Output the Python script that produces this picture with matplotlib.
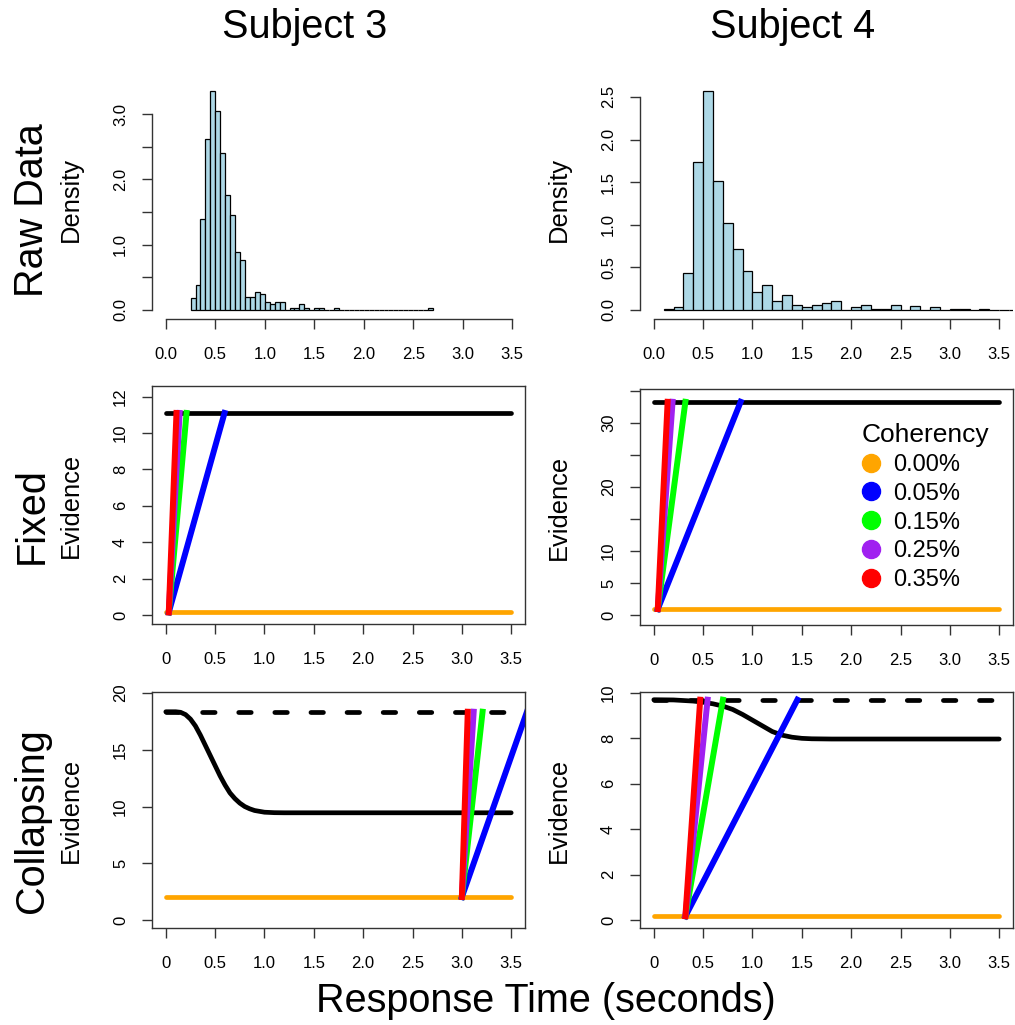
import numpy as np
import matplotlib.pyplot as plt
from matplotlib.lines import Line2D

plt.rcParams['font.family'] = ['Liberation Sans', 'DejaVu Sans']
plt.rcParams['lines.scale_dashes'] = False

W, H = 1015, 1025

# raw data histograms (density per bin)
s3_bin_start, s3_bin_width = 0.25, 0.05
s3_density = [0.18, 0.39, 1.39, 2.62, 3.36, 3.05, 2.40, 1.76, 1.45, 0.89,
              0.76, 0.20, 0.20, 0.27, 0.24, 0.12, 0.09, 0.12, 0.12, 0.0,
              0.025, 0.025, 0.09, 0.025, 0.0, 0.025, 0.025, 0.0, 0.0, 0.025,
              0, 0, 0, 0, 0, 0, 0, 0, 0, 0, 0, 0, 0, 0, 0, 0, 0, 0,
              0.025]
s4_bin_start, s4_bin_width = 0.1, 0.1
s4_density = [0.015, 0.035, 0.43, 1.74, 2.57, 1.51, 1.02, 0.71, 0.46, 0.21,
              0.29, 0.105, 0.18, 0.06, 0.04, 0.06, 0.08, 0.105, 0.0, 0.03,
              0.06, 0.015, 0.015, 0.06, 0.0, 0.045, 0.0, 0.03, 0.0, 0.015,
              0.015, 0.0, 0.015, 0.0, 0.0, 0.0, 0.0]

coh_labels = ['0.00%', '0.05%', '0.15%', '0.25%', '0.35%']
coh_colors = ['#FFA500', '#0000FF', '#00FF00', '#A020F0', '#FF0000']

# fixed bound model: start point, bound, non-decision time, hit times (0.05..0.35)
fixed3_start, fixed3_bound, fixed3_t0 = 0.15, 11.1, 0.03
fixed3_hit = [0.595, 0.21, 0.14, 0.108]
fixed4_start, fixed4_bound, fixed4_t0 = 0.93, 33.3, 0.04
fixed4_hit = [0.88, 0.32, 0.19, 0.14]

# collapsing bound model
coll3_start, coll3_bound, coll3_t0 = 2.03, 18.35, 3.0
coll3_hit = [3.66, 3.21, 3.12, 3.06]
coll3_time = [0, 0.1, 0.15, 0.2, 0.25, 0.3, 0.35, 0.4, 0.45, 0.5, 0.55, 0.6,
              0.65, 0.7, 0.75, 0.8, 0.85, 0.9, 1.0, 1.1, 1.2, 3.5]
coll3_curve = [18.35, 18.35, 18.3, 18.1, 17.7, 17.1, 16.3, 15.4, 14.5, 13.6,
               12.7, 11.9, 11.2, 10.7, 10.3, 10.0, 9.8, 9.65, 9.5, 9.46, 9.45, 9.45]
coll4_start, coll4_bound, coll4_t0 = 0.17, 9.7, 0.32
coll4_hit = [1.455, 0.70, 0.545, 0.47]
coll4_time = [0, 0.2, 0.4, 0.5, 0.6, 0.7, 0.8, 0.9, 1.0, 1.1, 1.2, 1.3, 1.4,
              1.5, 1.6, 1.8, 3.5]
coll4_curve = [9.70, 9.69, 9.64, 9.59, 9.52, 9.42, 9.27, 9.05, 8.80, 8.55,
               8.30, 8.14, 8.05, 8.00, 7.98, 7.97, 7.97]

AX_COL = '#333333'
fig = plt.figure(figsize=(W / 100, H / 100), dpi=100)


def px_axes(x0, y0, x1, y1):
    return fig.add_axes([x0 / W, 1 - y1 / H, (x1 - x0) / W, (y1 - y0) / H])


def style(ax, yticks, ylabels, xlabels, box=True):
    ax.set_xlim(-0.14, 3.64)
    xt = np.arange(0, 3.51, 0.5)
    ax.set_xticks(xt, xlabels)
    ax.set_yticks(yticks, ylabels)
    ax.tick_params(direction='out', length=7.2, width=1, color=AX_COL,
                   labelsize=12)
    ax.tick_params(axis='x', pad=13)
    ax.tick_params(axis='y', pad=10)
    for lbl in ax.get_yticklabels():
        lbl.set_rotation(90)
        lbl.set_va('center')
    for s in ax.spines.values():
        s.set_color(AX_COL)
        s.set_linewidth(1)
    if not box:
        ax.spines['top'].set_visible(False)
        ax.spines['right'].set_visible(False)
        ax.spines['bottom'].set_bounds(0, 3.5)
        ax.spines['left'].set_bounds(yticks[0], yticks[-1])


def hist(ax, start, width, dens):
    left = start + width * np.arange(len(dens))
    ax.bar(left, dens, width=width, align='edge', color='#ADD8E6',
           edgecolor='black', linewidth=0.9)


def model(ax, start, bound, t0, hits, ct=None, cy=None):
    if ct is None:
        ax.plot([0, 3.5], [bound, bound], color='black', lw=3.4,
                solid_capstyle='round')
    else:
        ax.plot([0, 3.5], [bound, bound], color='black', lw=3.4,
                dashes=(9, 17), dash_capstyle='round')
        ax.plot(ct, cy, color='black', lw=3.4, solid_capstyle='round')
    ax.plot([0, 3.5], [start, start], color=coh_colors[0], lw=3.4,
            solid_capstyle='round')
    for hit, col in zip(hits, coh_colors[1:]):
        ax.plot([t0, hit], [start, bound], color=col, lw=4.3)


xlab_hist = ['0.0', '0.5', '1.0', '1.5', '2.0', '2.5', '3.0', '3.5']
xlab_model = ['0', '0.5', '1.0', '1.5', '2.0', '2.5', '3.0', '3.5']

# row 1: raw data
ax = px_axes(152, 79, 526, 319)
hist(ax, s3_bin_start, s3_bin_width, s3_density)
ax.set_ylim(-0.138, 3.54)
style(ax, np.arange(0, 3.01, 0.5), ['0.0', '', '1.0', '', '2.0', '', '3.0'],
      xlab_hist, box=False)

ax = px_axes(640, 79, 1013, 319)
hist(ax, s4_bin_start, s4_bin_width, s4_density)
ax.set_ylim(-0.106, 2.71)
style(ax, np.arange(0, 2.51, 0.5), ['0.0', '0.5', '1.0', '1.5', '2.0', '2.5'],
      xlab_hist, box=False)

# row 2: fixed bound
ax = px_axes(152, 386, 525, 624)
model(ax, fixed3_start, fixed3_bound, fixed3_t0, fixed3_hit)
ax.set_ylim(-0.49, 12.58)
style(ax, np.arange(0, 13, 2), [str(v) for v in range(0, 13, 2)], xlab_model)

ax = px_axes(640, 389, 1013, 625)
model(ax, fixed4_start, fixed4_bound, fixed4_t0, fixed4_hit)
ax.set_ylim(-1.56, 35.3)
style(ax, np.arange(0, 36, 5), ['0', '5', '10', '', '20', '', '30', ''],
      xlab_model)
handles = [Line2D([], [], ls='none', marker='o', markersize=13,
                  color=c) for c in coh_colors]
ax.legend(handles, coh_labels, title='Coherency', frameon=False,
          fontsize=17, title_fontsize=19, alignment='left',
          loc='upper left', bbox_to_anchor=(862 / W, 1 - 423 / H),
          bbox_transform=fig.transFigure, borderpad=0, borderaxespad=0,
          handlelength=0.8, handletextpad=0.5, labelspacing=0.29)

# row 3: collapsing bound
ax = px_axes(152, 692, 525, 928)
model(ax, coll3_start, coll3_bound, coll3_t0, coll3_hit, coll3_time, coll3_curve)
ax.set_ylim(-0.7, 20.09)
style(ax, np.arange(0, 21, 5), [str(v) for v in range(0, 21, 5)], xlab_model)

ax = px_axes(640, 692, 1013, 928)
model(ax, coll4_start, coll4_bound, coll4_t0, coll4_hit, coll4_time, coll4_curve)
ax.set_ylim(-0.35, 10.04)
style(ax, np.arange(0, 11, 2), [str(v) for v in range(0, 11, 2)], xlab_model)

# outer labels
def ftext(x, y, s, size, rot=0):
    fig.text(x / W, 1 - y / H, s, fontsize=size, rotation=rot,
             rotation_mode='anchor', ha='center', va='baseline')

ftext(304.5, 38, 'Subject 3', 28.5)
ftext(792.5, 38, 'Subject 4', 28.5)
ftext(546, 1012, 'Response Time (seconds)', 28.5)
ftext(43, 210, 'Raw Data', 28.5, 90)
ftext(43, 516, 'Fixed', 28.5, 90)
ftext(43, 821, 'Collapsing', 28.5, 90)
ftext(78, 199.5, 'Density', 18.4, 90)
ftext(566, 199.5, 'Density', 18.4, 90)
ftext(78, 505, 'Evidence', 18.4, 90)
ftext(566, 507, 'Evidence', 18.4, 90)
ftext(78, 810, 'Evidence', 18.4, 90)
ftext(566, 810, 'Evidence', 18.4, 90)

fig.savefig('out.png', dpi=100)
